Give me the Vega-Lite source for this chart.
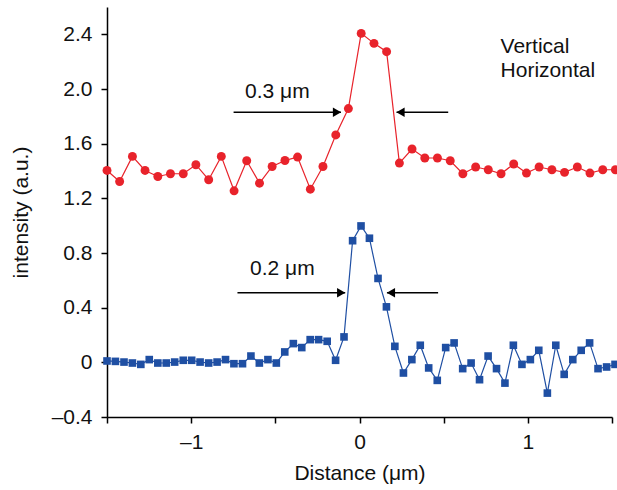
{
  "$schema": "https://vega.github.io/schema/vega-lite/v6.json",
  "width": 505,
  "height": 410,
  "autosize": {"type": "none"},
  "padding": {"left": 107, "top": 7, "right": 5, "bottom": 73},
  "background": "white",
  "config": {
    "view": {"stroke": null},
    "font": "Liberation Sans",
    "axis": {
      "grid": false,
      "domainColor": "black",
      "domainWidth": 1.5,
      "tickColor": "black",
      "tickWidth": 1.5,
      "tickSize": 6,
      "labelColor": "#111",
      "labelFont": "Liberation Sans",
      "labelFontSize": 21,
      "titleFont": "Liberation Sans",
      "titleFontSize": 21,
      "titleFontWeight": "normal",
      "titleColor": "#111"
    }
  },
  "datasets": {
    "profile": [
      {"x": -1.5, "intensity": 1.404, "series": "Vertical"},
      {"x": -1.425, "intensity": 1.323, "series": "Vertical"},
      {"x": -1.349, "intensity": 1.507, "series": "Vertical"},
      {"x": -1.274, "intensity": 1.404, "series": "Vertical"},
      {"x": -1.198, "intensity": 1.36, "series": "Vertical"},
      {"x": -1.123, "intensity": 1.38, "series": "Vertical"},
      {"x": -1.047, "intensity": 1.38, "series": "Vertical"},
      {"x": -0.972, "intensity": 1.446, "series": "Vertical"},
      {"x": -0.896, "intensity": 1.336, "series": "Vertical"},
      {"x": -0.821, "intensity": 1.507, "series": "Vertical"},
      {"x": -0.745, "intensity": 1.255, "series": "Vertical"},
      {"x": -0.67, "intensity": 1.475, "series": "Vertical"},
      {"x": -0.594, "intensity": 1.311, "series": "Vertical"},
      {"x": -0.519, "intensity": 1.433, "series": "Vertical"},
      {"x": -0.443, "intensity": 1.477, "series": "Vertical"},
      {"x": -0.368, "intensity": 1.502, "series": "Vertical"},
      {"x": -0.292, "intensity": 1.267, "series": "Vertical"},
      {"x": -0.217, "intensity": 1.433, "series": "Vertical"},
      {"x": -0.141, "intensity": 1.664, "series": "Vertical"},
      {"x": -0.066, "intensity": 1.857, "series": "Vertical"},
      {"x": 0.01, "intensity": 2.407, "series": "Vertical"},
      {"x": 0.086, "intensity": 2.334, "series": "Vertical"},
      {"x": 0.161, "intensity": 2.273, "series": "Vertical"},
      {"x": 0.237, "intensity": 1.458, "series": "Vertical"},
      {"x": 0.312, "intensity": 1.561, "series": "Vertical"},
      {"x": 0.388, "intensity": 1.495, "series": "Vertical"},
      {"x": 0.463, "intensity": 1.495, "series": "Vertical"},
      {"x": 0.539, "intensity": 1.475, "series": "Vertical"},
      {"x": 0.614, "intensity": 1.38, "series": "Vertical"},
      {"x": 0.69, "intensity": 1.429, "series": "Vertical"},
      {"x": 0.765, "intensity": 1.409, "series": "Vertical"},
      {"x": 0.841, "intensity": 1.38, "series": "Vertical"},
      {"x": 0.916, "intensity": 1.451, "series": "Vertical"},
      {"x": 0.992, "intensity": 1.385, "series": "Vertical"},
      {"x": 1.067, "intensity": 1.429, "series": "Vertical"},
      {"x": 1.143, "intensity": 1.409, "series": "Vertical"},
      {"x": 1.218, "intensity": 1.39, "series": "Vertical"},
      {"x": 1.294, "intensity": 1.429, "series": "Vertical"},
      {"x": 1.369, "intensity": 1.385, "series": "Vertical"},
      {"x": 1.445, "intensity": 1.409, "series": "Vertical"},
      {"x": 1.52, "intensity": 1.409, "series": "Vertical"},
      {"x": -1.5, "intensity": 0.01, "series": "Horizontal"},
      {"x": -1.45, "intensity": 0.007, "series": "Horizontal"},
      {"x": -1.399, "intensity": 0.002, "series": "Horizontal"},
      {"x": -1.349, "intensity": -0.005, "series": "Horizontal"},
      {"x": -1.299, "intensity": -0.015, "series": "Horizontal"},
      {"x": -1.249, "intensity": 0.02, "series": "Horizontal"},
      {"x": -1.198, "intensity": -0.005, "series": "Horizontal"},
      {"x": -1.148, "intensity": -0.005, "series": "Horizontal"},
      {"x": -1.098, "intensity": 0.002, "series": "Horizontal"},
      {"x": -1.047, "intensity": 0.015, "series": "Horizontal"},
      {"x": -0.997, "intensity": 0.015, "series": "Horizontal"},
      {"x": -0.947, "intensity": 0.002, "series": "Horizontal"},
      {"x": -0.896, "intensity": -0.005, "series": "Horizontal"},
      {"x": -0.846, "intensity": 0.002, "series": "Horizontal"},
      {"x": -0.796, "intensity": 0.02, "series": "Horizontal"},
      {"x": -0.746, "intensity": -0.01, "series": "Horizontal"},
      {"x": -0.695, "intensity": -0.01, "series": "Horizontal"},
      {"x": -0.645, "intensity": 0.046, "series": "Horizontal"},
      {"x": -0.595, "intensity": -0.005, "series": "Horizontal"},
      {"x": -0.544, "intensity": 0.02, "series": "Horizontal"},
      {"x": -0.494, "intensity": -0.005, "series": "Horizontal"},
      {"x": -0.444, "intensity": 0.076, "series": "Horizontal"},
      {"x": -0.393, "intensity": 0.137, "series": "Horizontal"},
      {"x": -0.343, "intensity": 0.108, "series": "Horizontal"},
      {"x": -0.293, "intensity": 0.166, "series": "Horizontal"},
      {"x": -0.243, "intensity": 0.166, "series": "Horizontal"},
      {"x": -0.192, "intensity": 0.154, "series": "Horizontal"},
      {"x": -0.142, "intensity": 0.015, "series": "Horizontal"},
      {"x": -0.092, "intensity": 0.186, "series": "Horizontal"},
      {"x": -0.041, "intensity": 0.89, "series": "Horizontal"},
      {"x": 0.009, "intensity": 0.998, "series": "Horizontal"},
      {"x": 0.059, "intensity": 0.908, "series": "Horizontal"},
      {"x": 0.11, "intensity": 0.614, "series": "Horizontal"},
      {"x": 0.16, "intensity": 0.406, "series": "Horizontal"},
      {"x": 0.21, "intensity": 0.117, "series": "Horizontal"},
      {"x": 0.261, "intensity": -0.078, "series": "Horizontal"},
      {"x": 0.311, "intensity": 0.02, "series": "Horizontal"},
      {"x": 0.361, "intensity": 0.125, "series": "Horizontal"},
      {"x": 0.411, "intensity": -0.041, "series": "Horizontal"},
      {"x": 0.462, "intensity": -0.132, "series": "Horizontal"},
      {"x": 0.512, "intensity": 0.108, "series": "Horizontal"},
      {"x": 0.562, "intensity": 0.142, "series": "Horizontal"},
      {"x": 0.613, "intensity": -0.046, "series": "Horizontal"},
      {"x": 0.663, "intensity": -0.005, "series": "Horizontal"},
      {"x": 0.713, "intensity": -0.127, "series": "Horizontal"},
      {"x": 0.764, "intensity": 0.046, "series": "Horizontal"},
      {"x": 0.814, "intensity": -0.046, "series": "Horizontal"},
      {"x": 0.864, "intensity": -0.152, "series": "Horizontal"},
      {"x": 0.914, "intensity": 0.125, "series": "Horizontal"},
      {"x": 0.965, "intensity": -0.015, "series": "Horizontal"},
      {"x": 1.015, "intensity": 0.02, "series": "Horizontal"},
      {"x": 1.065, "intensity": 0.088, "series": "Horizontal"},
      {"x": 1.116, "intensity": -0.225, "series": "Horizontal"},
      {"x": 1.166, "intensity": 0.125, "series": "Horizontal"},
      {"x": 1.216, "intensity": -0.088, "series": "Horizontal"},
      {"x": 1.267, "intensity": 0.02, "series": "Horizontal"},
      {"x": 1.317, "intensity": 0.088, "series": "Horizontal"},
      {"x": 1.367, "intensity": 0.142, "series": "Horizontal"},
      {"x": 1.417, "intensity": -0.046, "series": "Horizontal"},
      {"x": 1.468, "intensity": -0.034, "series": "Horizontal"},
      {"x": 1.518, "intensity": -0.015, "series": "Horizontal"}
    ],
    "arrows": [
      {"tail": -0.748, "tip": -0.11, "y": 1.83, "dir": "right"},
      {"tail": 0.527, "tip": 0.22, "y": 1.83, "dir": "left"},
      {"tail": -0.725, "tip": -0.085, "y": 0.509, "dir": "right"},
      {"tail": 0.467, "tip": 0.163, "y": 0.509, "dir": "left"}
    ],
    "labels": [
      {"x": -0.68, "y": 1.932, "text": "0.3 μm"},
      {"x": -0.65, "y": 0.639, "text": "0.2 μm"},
      {"x": 0.838, "y": 2.261, "text": "Vertical"},
      {"x": 0.838, "y": 2.085, "text": "Horizontal"}
    ]
  },
  "layer": [
    {
      "data": {"name": "profile"},
      "mark": {"type": "line", "strokeWidth": 1.2, "clip": false},
      "encoding": {
        "x": {
          "field": "x", "type": "quantitative",
          "scale": {"domain": [-1.5, 1.5], "nice": false, "zero": false},
          "axis": {
            "title": "Distance (μm)",
            "values": [-1.5, -1, -0.5, 0, 0.5, 1, 1.5],
            "labelExpr": "datum.value == 0 ? '0' : (datum.value == -1 ? '–1' : (datum.value == 1 ? '1' : ''))",
            "labelPadding": 8,
            "titleBaseline": "alphabetic",
            "titleY": 62
          }
        },
        "y": {
          "field": "intensity", "type": "quantitative",
          "scale": {"domain": [-0.4, 2.6], "nice": false, "zero": false},
          "axis": {
            "title": "intensity (a.u.)",
            "values": [-0.4, -0.2, 0, 0.2, 0.4, 0.6, 0.8, 1, 1.2, 1.4, 1.6, 1.8, 2, 2.2, 2.4],
            "labelExpr": "abs(round(datum.value * 10)) % 4 != 0 ? '' : (datum.value == 0 ? '0' : (datum.value < 0 ? '–' + format(-datum.value, '.1f') : format(datum.value, '.1f')))",
            "labelPadding": 9,
            "titleX": -86,
            "titleBaseline": "middle"
          }
        },
        "color": {
          "field": "series", "type": "nominal",
          "scale": {"domain": ["Vertical", "Horizontal"], "range": ["#e8232b", "#1f4fa3"]},
          "legend": null
        },
        "detail": {"field": "series"}
      }
    },
    {
      "data": {"name": "profile"},
      "mark": {"type": "point", "filled": true, "opacity": 1, "clip": false},
      "encoding": {
        "x": {"field": "x", "type": "quantitative"},
        "y": {"field": "intensity", "type": "quantitative"},
        "color": {"field": "series", "type": "nominal", "legend": null},
        "shape": {
          "field": "series", "type": "nominal",
          "scale": {"domain": ["Vertical", "Horizontal"], "range": ["circle", "square"]},
          "legend": null
        },
        "size": {
          "field": "series", "type": "nominal",
          "scale": {"domain": ["Vertical", "Horizontal"], "range": [80, 58]},
          "legend": null
        }
      }
    },
    {
      "data": {"name": "arrows"},
      "mark": {"type": "rule", "color": "black", "strokeWidth": 1.5},
      "encoding": {
        "x": {"field": "tail", "type": "quantitative"},
        "x2": {"field": "tip"},
        "y": {"field": "y", "type": "quantitative"}
      }
    },
    {
      "data": {"name": "arrows"},
      "transform": [{"filter": "datum.dir == 'right'"}],
      "mark": {"type": "point", "shape": "triangle-right", "filled": true, "color": "black", "opacity": 1, "size": 90, "xOffset": -4},
      "encoding": {
        "x": {"field": "tip", "type": "quantitative"},
        "y": {"field": "y", "type": "quantitative"}
      }
    },
    {
      "data": {"name": "arrows"},
      "transform": [{"filter": "datum.dir == 'left'"}],
      "mark": {"type": "point", "shape": "triangle-left", "filled": true, "color": "black", "opacity": 1, "size": 90, "xOffset": 4},
      "encoding": {
        "x": {"field": "tip", "type": "quantitative"},
        "y": {"field": "y", "type": "quantitative"}
      }
    },
    {
      "data": {"name": "labels"},
      "mark": {"type": "text", "align": "left", "baseline": "alphabetic", "fontSize": 21, "font": "Liberation Sans", "color": "#111"},
      "encoding": {
        "x": {"field": "x", "type": "quantitative"},
        "y": {"field": "y", "type": "quantitative"},
        "text": {"field": "text"}
      }
    }
  ]
}
